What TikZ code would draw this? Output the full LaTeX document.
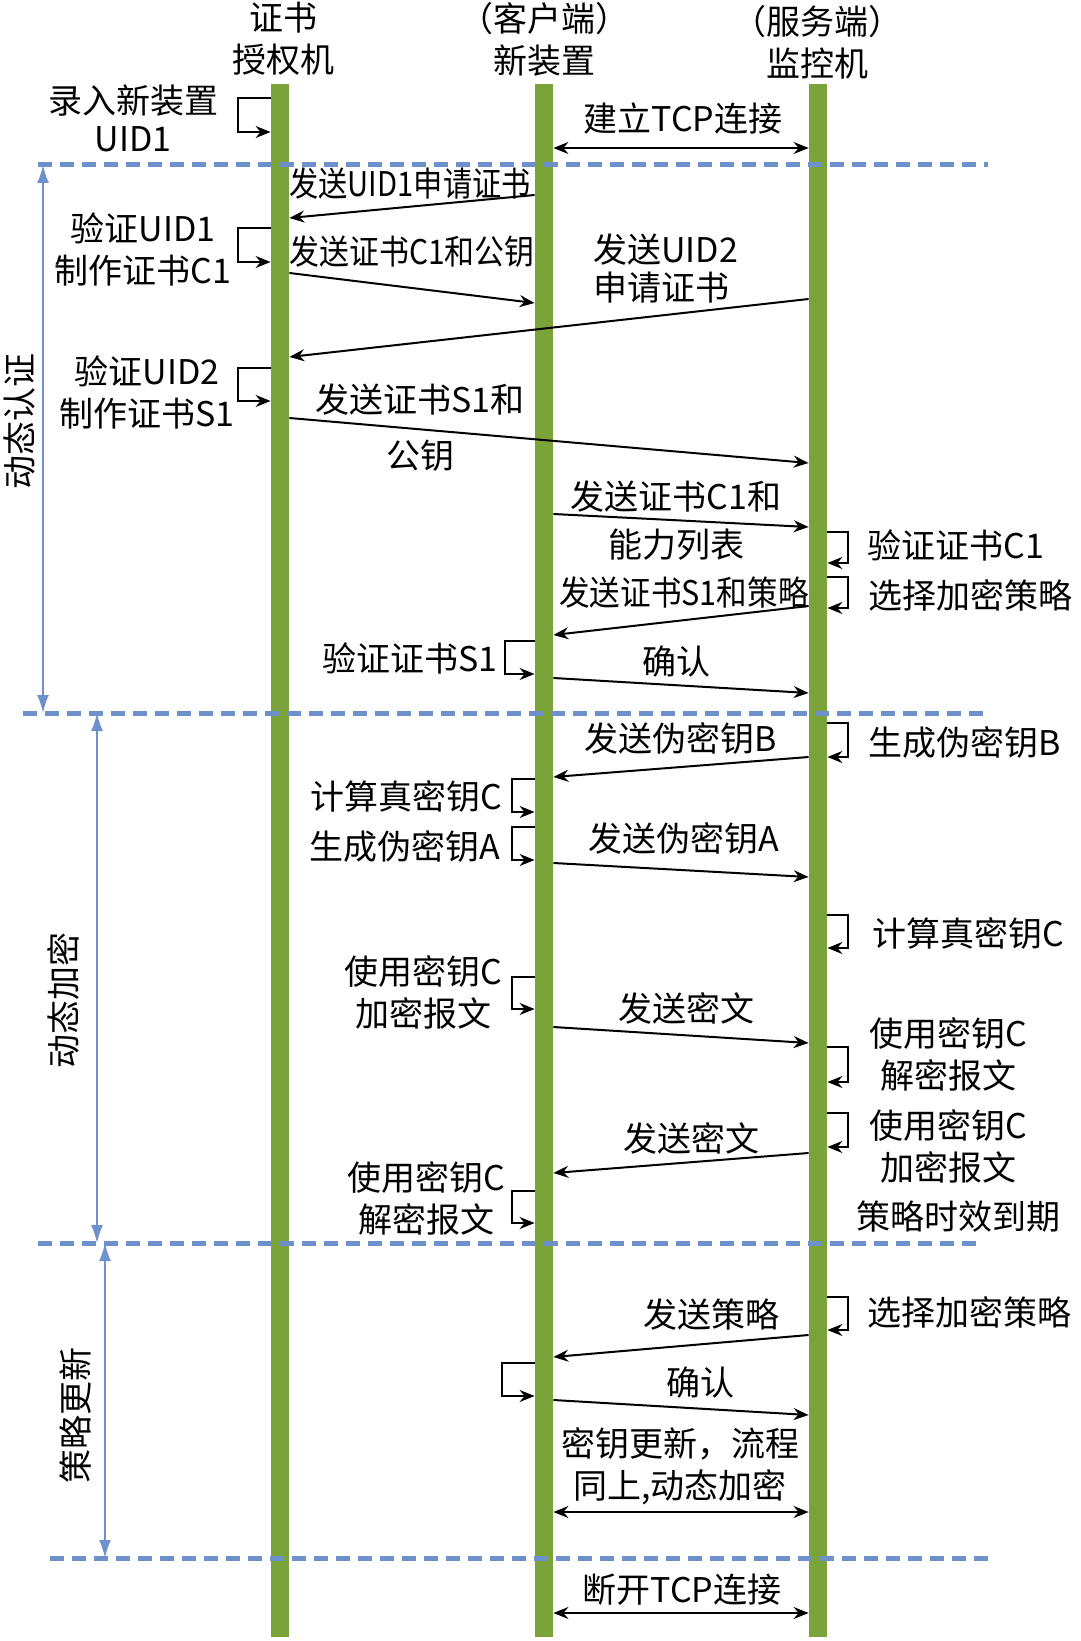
\documentclass[tikz,border=0pt]{standalone}
\usepackage{fontspec}
\setmainfont{Noto Sans CJK SC}
\usepackage{graphicx}
\usetikzlibrary{arrows.meta, positioning}
\definecolor{barGreen}{RGB}{122,164,58}
\definecolor{phaseBlue}{RGB}{111,145,203}
\newcommand{\narrow}[2]{\scalebox{#1}[1]{#2}}
\tikzstyle{lifeline} = [rectangle, fill=barGreen, inner sep=0pt, minimum width=9pt, minimum height=776.5pt, anchor=north]
\tikzstyle{txt} = [inner sep=0pt, align=center, font=\fontsize{17}{21}\selectfont]
\tikzstyle{msg} = [line width=1pt, ->, >={Stealth[length=7.5pt, width=6pt, inset=2.5pt]}]
\tikzstyle{both} = [msg, <->]
\tikzstyle{phase} = [line width=2.5pt, phaseBlue, dash pattern=on 7pt off 4pt]
\tikzstyle{phasespan} = [line width=0.9pt, phaseBlue, {Latex[length=9pt, width=6pt]}-{Latex[length=9pt, width=6pt]}]

\begin{document}
\begin{tikzpicture}[x=0.5pt, y=-0.5pt]
    \useasboundingbox (0,0) rectangle (1080,1641);
    % lifelines and their headers
    \node[lifeline] (ca) at (280,84) {};
    \node[lifeline] (cl) at (544,84) {};
    \node[lifeline] (sv) at (818,84) {};
    \node[txt] (cahead) at (283,39) {证书\\授权机};
    \node[txt] (clhead) at (544,39) {（客户端）\\新装置};
    \node[txt] (svhead) at (817,42) {（服务端）\\监控机};

    % phase separators
    \draw[phase] (38,165) coordinate (p1) -- (988,165);
    \draw[phase] (23,713) coordinate (p2) -- (990,713);
    \draw[phase] (38,1243) coordinate (p3) -- (983,1243);
    \draw[phase] (50,1558) coordinate (p4) -- (995,1558);
    \draw[phasespan] (43,0 |- p1) -- (43,0 |- p2);
    \draw[phasespan] (97,0 |- p2) -- (97,0 |- p3);
    \draw[phasespan] (105,0 |- p3) -- (105,0 |- p4);
    \node[txt, rotate=90] (auth) at (20,422) {动态认证};
    \node[txt, rotate=90] (encr) at (63,1000) {动态加密};
    \node[txt, rotate=90] (upd) at (76,1415) {策略更新};

    % self steps
    \foreach \a/\b in {98/132, 228/262, 368/401}
        \draw[msg] (ca.west |- 0,\a) -- (238,\a) |- (ca.west |- 0,\b);
    \foreach \a/\b/\w in {641/674/505, 779/812/512, 827/860/512, 977/1009/512, 1191/1223/512, 1363/1396/502}
        \draw[msg] (cl.west |- 0,\a) -- (\w,\a) |- (cl.west |- 0,\b);
    \foreach \a/\b in {532/563, 577/608, 723/757, 915/948, 1047/1082, 1113/1147, 1297/1330}
        \draw[msg] (sv.east |- 0,\a) -- (848,\a) |- (sv.east |- 0,\b);

    \node[txt] (newdev) at (133,118) {录入新装置\\[-2pt]UID1};
    \node[txt] (chk1) at (143,249) {验证UID1\\制作证书C1};
    \node[txt] (chk2) at (147,392) {验证UID2\\制作证书S1};
    \node[txt] (chks1) at (410,658) {验证证书S1};
    \node[txt] (realc) at (406,796) {计算真密钥C};
    \node[txt] (fakea) at (405,847) {生成伪密钥A};
    \node[txt] (encl) at (423,992) {使用密钥C\\加密报文};
    \node[txt] (decl) at (426,1198) {使用密钥C\\解密报文};
    \node[txt] (chkc1) at (956,545) {验证证书C1};
    \node[txt] (pick1) at (970,595) {选择加密策略};
    \node[txt] (fakeb) at (965,743) {生成伪密钥B};
    \node[txt] (reals) at (968,933) {计算真密钥C};
    \node[txt] (decs) at (948,1054) {使用密钥C\\解密报文};
    \node[txt] (encs) at (948,1146) {使用密钥C\\加密报文};
    \node[txt] (expire) at (958,1217) {策略时效到期};
    \node[txt] (pick2) at (969,1312) {选择加密策略};

    % messages
    \draw[both] (cl.east |- 0,148) -- (sv.west |- 0,148);
    \node[txt] (tcpon) at (683,119) {建立TCP连接};
    \draw[msg] (cl.west |- 0,195) -- (ca.east |- 0,218);
    \node[txt] (req1) at (410,184) {\narrow{0.86}{发送UID1申请证书}};
    \draw[msg] (ca.east |- 0,273) -- (cl.west |- 0,303);
    \node[txt] (cert1) at (412,252) {\narrow{0.88}{发送证书C1和公钥}};
    \draw[msg] (sv.west |- 0,299) -- (ca.east |- 0,357);
    \node[txt, align=left, anchor=west] (req2) at (593,268) {发送UID2\\[-2pt]申请证书};
    \draw[msg] (ca.east |- 0,418) -- (sv.west |- 0,463);
    \node[txt] (cert2) at (420,428) {发送证书S1和\\[7pt]公钥};
    \draw[msg] (cl.east |- 0,514) -- (sv.west |- 0,527);
    \node[txt] (ability) at (676,521) {发送证书C1和\\[3pt]能力列表};
    \draw[msg] (sv.west |- 0,606) -- (cl.east |- 0,635);
    \node[txt] (policy1) at (684,593) {\narrow{0.9}{发送证书S1和策略}};
    \draw[msg] (cl.east |- 0,678) -- (sv.west |- 0,693);
    \node[txt] (ack1) at (676,662) {确认};
    \draw[msg] (sv.west |- 0,757) -- (cl.east |- 0,777);
    \node[txt] (sendb) at (681,738) {发送伪密钥B};
    \draw[msg] (cl.east |- 0,863) -- (sv.west |- 0,877);
    \node[txt] (senda) at (684,838) {发送伪密钥A};
    \draw[msg] (cl.east |- 0,1027) -- (sv.west |- 0,1043);
    \node[txt] (ciph1) at (686,1008) {发送密文};
    \draw[msg] (sv.west |- 0,1153) -- (cl.east |- 0,1173);
    \node[txt] (ciph2) at (691,1138) {发送密文};
    \draw[msg] (sv.west |- 0,1335) -- (cl.east |- 0,1357);
    \node[txt] (policy2) at (711,1315) {发送策略};
    \draw[msg] (cl.east |- 0,1400) -- (sv.west |- 0,1415);
    \node[txt] (ack2) at (700,1383) {确认};
    \draw[both] (cl.east |- 0,1512) -- (sv.west |- 0,1512);
    \node[txt] (rekey) at (680,1466) {密钥更新，流程\\同上,动态加密};
    \draw[both] (cl.east |- 0,1613) -- (sv.west |- 0,1613);
    \node[txt] (tcpoff) at (682,1590) {断开TCP连接};
\end{tikzpicture}
\end{document}
